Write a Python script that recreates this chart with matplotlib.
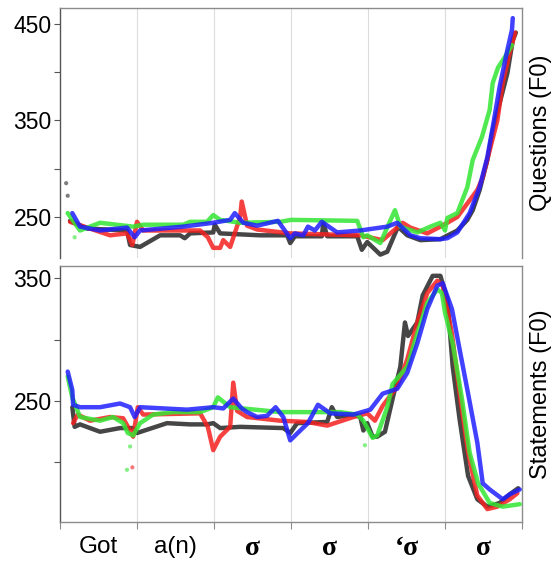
import matplotlib
matplotlib.use("Agg")
import matplotlib.pyplot as plt

# ---------------- data ----------------
segment_labels = ["Got", "a(n)", "\u03c3", "\u03c3", "\u2018\u03c3", "\u03c3"]
q_yticks = [250, 350, 450]
s_yticks = [250, 350]

# Questions panel
q_black_x = [0.13, 0.35, 0.87, 0.91, 1.04, 1.30, 1.56, 1.62, 1.69, 1.99, 2.01, 2.08, 2.60, 2.95, 2.99, 3.05, 3.40, 3.42, 3.47, 3.86, 3.92, 3.99, 4.16, 4.25, 4.39, 4.51, 4.68, 4.94, 5.16, 5.29, 5.36, 5.45, 5.55, 5.62, 5.71, 5.81, 5.88, 5.92]
q_black_y = [246, 238, 236, 221, 219, 231, 231, 228, 233, 234, 242, 233, 231, 231, 223, 230, 230, 244, 230, 230, 216, 224, 211, 214, 240, 231, 226, 227, 236, 247, 257, 278, 309, 340, 368, 399, 433, 441]
q_red_x = [0.13, 0.65, 0.87, 0.94, 1.00, 1.08, 1.82, 1.92, 1.99, 2.08, 2.12, 2.21, 2.34, 2.36, 2.43, 2.56, 2.99, 3.90, 4.19, 4.45, 4.55, 4.77, 4.94, 5.03, 5.16, 5.29, 5.42, 5.49, 5.58, 5.68, 5.75, 5.84, 5.91]
q_red_y = [245, 231, 233, 221, 245, 236, 236, 229, 218, 218, 226, 219, 250, 266, 241, 237, 233, 231, 226, 244, 239, 233, 240, 244, 250, 264, 278, 291, 319, 350, 389, 420, 441]
q_green_x = [0.10, 0.26, 0.52, 0.95, 1.08, 1.60, 1.69, 1.91, 1.99, 2.08, 2.34, 2.86, 3.00, 3.86, 3.94, 3.99, 4.16, 4.35, 4.42, 4.64, 4.81, 4.94, 5.00, 5.03, 5.16, 5.29, 5.36, 5.48, 5.58, 5.62, 5.69, 5.78, 5.87]
q_green_y = [254, 236, 244, 240, 242, 242, 245, 245, 252, 247, 244, 245, 247, 246, 229, 231, 223, 257, 240, 234, 240, 244, 236, 249, 254, 281, 309, 333, 361, 389, 405, 416, 428]
q_blue_x = [0.16, 0.26, 0.52, 0.87, 0.97, 1.04, 1.60, 1.99, 2.21, 2.27, 2.38, 2.56, 2.83, 2.99, 3.05, 3.16, 3.22, 3.31, 3.40, 3.60, 3.90, 4.25, 4.38, 4.55, 4.68, 4.94, 5.03, 5.16, 5.32, 5.45, 5.55, 5.62, 5.71, 5.81, 5.87, 5.88]
q_blue_y = [254, 240, 236, 239, 229, 236, 240, 244, 247, 254, 244, 241, 246, 228, 233, 231, 240, 236, 245, 234, 236, 240, 244, 231, 228, 227, 228, 234, 254, 281, 312, 343, 385, 423, 444, 456]
q_stray_x = [0.08, 0.10, 0.19]
q_stray_y = [285, 272, 229]
q_stray_c = ["black", "black", "green"]

# Statements panel
s_black_x = [0.16, 0.19, 0.26, 0.52, 0.78, 0.95, 1.00, 1.39, 1.69, 1.91, 1.99, 2.08, 2.34, 2.90, 2.99, 3.08, 3.47, 3.53, 3.60, 3.81, 3.90, 3.94, 3.99, 4.06, 4.12, 4.22, 4.32, 4.42, 4.48, 4.52, 4.64, 4.71, 4.84, 4.94, 5.03, 5.10, 5.19, 5.30, 5.42, 5.55, 5.71, 5.84, 5.95]
s_black_y = [245, 229, 231, 225, 228, 228, 224, 232, 231, 231, 232, 228, 229, 228, 224, 232, 233, 245, 237, 239, 237, 226, 232, 221, 221, 225, 252, 278, 314, 303, 314, 336, 352, 352, 333, 278, 235, 189, 170, 164, 167, 174, 179]
s_red_x = [0.17, 0.23, 0.39, 0.65, 0.82, 0.91, 0.95, 1.01, 1.08, 1.82, 1.92, 1.99, 2.08, 2.21, 2.25, 2.30, 2.43, 2.86, 3.21, 3.47, 3.81, 3.99, 4.09, 4.19, 4.38, 4.51, 4.64, 4.77, 4.90, 4.97, 5.09, 5.19, 5.30, 5.42, 5.55, 5.68, 5.84, 5.94]
s_red_y = [232, 239, 234, 237, 236, 226, 221, 245, 239, 240, 229, 210, 221, 229, 265, 242, 237, 234, 233, 230, 237, 240, 234, 246, 262, 284, 314, 338, 348, 344, 305, 256, 208, 173, 162, 164, 170, 175]
s_green_x = [0.10, 0.16, 0.26, 0.52, 0.69, 0.82, 0.88, 0.95, 1.04, 1.21, 1.47, 1.82, 1.99, 2.05, 2.21, 2.86, 3.64, 3.86, 3.94, 4.06, 4.12, 4.25, 4.32, 4.51, 4.64, 4.77, 4.90, 4.96, 5.00, 5.10, 5.22, 5.32, 5.43, 5.58, 5.75, 5.97]
s_green_y = [270, 253, 237, 234, 237, 232, 224, 222, 232, 239, 241, 241, 245, 253, 245, 241, 241, 239, 234, 220, 222, 245, 264, 278, 305, 330, 341, 338, 322, 297, 252, 208, 183, 167, 164, 166]
s_blue_x = [0.10, 0.16, 0.17, 0.26, 0.52, 0.78, 0.91, 0.97, 1.04, 1.65, 1.99, 2.12, 2.25, 2.36, 2.43, 2.56, 2.69, 2.80, 2.90, 2.99, 3.12, 3.22, 3.35, 3.51, 3.81, 4.03, 4.19, 4.38, 4.51, 4.64, 4.77, 4.90, 4.97, 5.09, 5.19, 5.30, 5.42, 5.49, 5.58, 5.75, 5.84, 5.97]
s_blue_y = [274, 259, 247, 245, 245, 248, 245, 237, 245, 243, 245, 244, 252, 244, 241, 237, 238, 245, 237, 218, 226, 232, 247, 240, 239, 243, 256, 260, 273, 297, 325, 344, 346, 325, 292, 256, 216, 183, 178, 170, 174, 178]
s_stray_x = [0.87, 0.91, 0.94, 3.96]
s_stray_y = [194, 213, 196, 214]
s_stray_c = ["green", "green", "red", "green"]

colors = {"black": "#262626", "red": "#f52020", "green": "#33e633", "blue": "#1f1fff"}

# ---------------- figure ----------------
fig = plt.figure(figsize=(5.6, 5.61), dpi=100)
ax_q = fig.add_axes([60 / 560, 1 - 258 / 561, 462 / 560, 250 / 561])
ax_s = fig.add_axes([60 / 560, 1 - 522 / 561, 462 / 560, 256 / 561])

panels = [
    (ax_q, [(q_black_x, q_black_y, "black"), (q_red_x, q_red_y, "red"),
            (q_green_x, q_green_y, "green"), (q_blue_x, q_blue_y, "blue")],
     (q_stray_x, q_stray_y, q_stray_c), (207.5, 466.5), q_yticks, [300, 400], "Questions (F0)"),
    (ax_s, [(s_black_x, s_black_y, "black"), (s_red_x, s_red_y, "red"),
            (s_green_x, s_green_y, "green"), (s_blue_x, s_blue_y, "blue")],
     (s_stray_x, s_stray_y, s_stray_c), (151.5, 360), s_yticks, [200, 300], "Statements (F0)"),
]

spine_col = "#8c8c8c"
for ax, series, stray, ylim, yt, ytm, lab in panels:
    for xs, ys, c in series:
        ax.plot(xs, ys, color=colors[c], lw=3.2, alpha=0.85,
                solid_capstyle="round", solid_joinstyle="round", zorder=3)
    sx, sy, sc = stray
    ax.scatter(sx, sy, s=9, c=[colors[c] for c in sc], alpha=0.6, zorder=3, linewidths=0)
    ax.set_xlim(0, 6)
    ax.set_ylim(*ylim)
    ax.set_yticks(yt)
    ax.set_yticks(ytm, minor=True)
    ax.set_yticklabels([str(v) for v in yt], fontsize=16.5, family="Liberation Sans")
    for x in range(1, 6):
        ax.axvline(x, color="#dcdcdc", lw=0.8, zorder=1)
    for sp in ax.spines.values():
        sp.set_color(spine_col)
        sp.set_linewidth(1.0)
    ax.spines["left"].set_color("#555555")
    ax.tick_params(axis="y", which="both", direction="out", length=4, width=0.8,
                   color="#555555", pad=2)
    ax.yaxis.set_label_position("right")
    ax.set_ylabel(lab, fontsize=17, family="Liberation Sans", labelpad=6)

ax_q.set_xticks([])
ax_q.spines["bottom"].set_visible(False)

ax_s.set_xticks(range(0, 7))
ax_s.set_xticklabels([])
ax_s.tick_params(axis="x", which="major", direction="out", length=5, width=0.8, color=spine_col)
mids = [i + 0.5 for i in range(6)]
ax_s.set_xticks(mids, minor=True)
ax_s.set_xticklabels(segment_labels, minor=True, fontsize=17.5, family="Liberation Sans")
ax_s.tick_params(axis="x", which="minor", length=0, pad=10)
for t in ax_s.get_xticklabels(minor=True):
    if "\u03c3" in t.get_text():
        t.set_family("Liberation Serif")
        t.set_fontweight("bold")
        t.set_fontsize(20)

fig.savefig("out.png", dpi=100)
